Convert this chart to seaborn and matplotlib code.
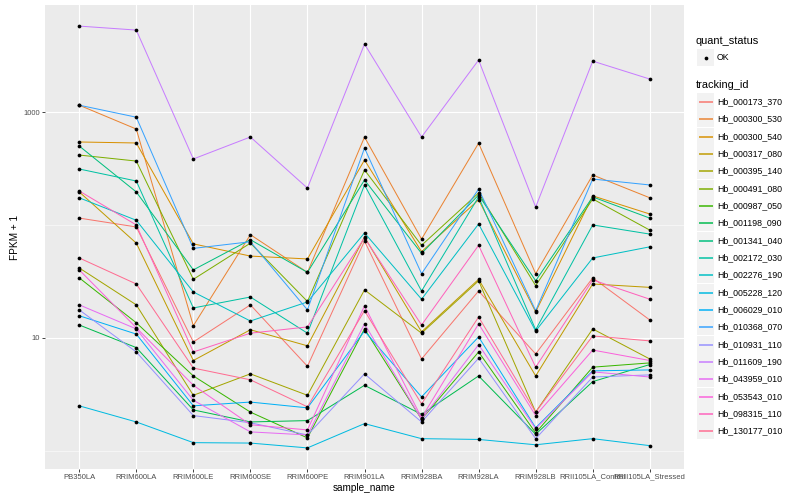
import numpy as np
import pandas as pd
import seaborn as sns
import matplotlib
matplotlib.use('Agg')
import matplotlib.pyplot as plt
from matplotlib.ticker import FixedLocator, NullFormatter
from matplotlib.patches import Rectangle

# sample names on the x axis
SAMPLES = ['PB350LA', 'RRIM600LA', 'RRIM600LE', 'RRIM600SE', 'RRIM600PE', 'RRIM901LA',
           'RRIM928BA', 'RRIM928LA', 'RRIM928LB', 'RRII105LA_Control', 'RRII105LA_Stressed']

TRACKING_IDS = ['Hb_000173_370', 'Hb_000300_530', 'Hb_000300_540', 'Hb_000317_080',
                'Hb_000395_140', 'Hb_000491_080', 'Hb_000987_050', 'Hb_001198_090',
                'Hb_001341_040', 'Hb_002172_030', 'Hb_002276_190', 'Hb_005228_120',
                'Hb_006029_010', 'Hb_010368_070', 'Hb_010931_110', 'Hb_011609_190',
                'Hb_043959_010', 'Hb_053543_010', 'Hb_098315_110', 'Hb_130177_010']

# FPKM + 1, one list per tracking id
hb_000173_370 = [115, 96, 9.2, 19.6, 5.6, 72, 6.5, 26, 7.2, 34, 14.4]
hb_000300_530 = [1150, 707, 12.8, 82, 38, 600, 75, 530, 37, 277, 174]
hb_000300_540 = [543, 532, 68, 53, 50, 376, 58, 167, 17, 181, 125]
hb_000317_080 = [196, 69, 6.3, 11.8, 8.5, 78, 11.3, 33, 4.6, 30, 28]
hb_000395_140 = [41.6, 19.6, 3.1, 4.8, 3.1, 26.6, 11, 32, 2.2, 12, 6.5]
hb_000491_080 = [416, 368, 33, 69, 21, 307, 66, 192, 29, 170, 90]
hb_000987_050 = [34, 13.6, 4.6, 2.2, 1.3, 12, 1.9, 7.5, 1.44, 5.5, 6.0]
hb_001198_090 = [13, 8.2, 2.3, 1.8, 1.85, 3.8, 2.1, 4.6, 1.4, 4.1, 5.8]
hb_001341_040 = [500, 196, 40, 74, 38, 250, 56, 184, 32, 177, 115]
hb_002172_030 = [313, 245, 18.4, 23, 11, 226, 26, 177, 11.8, 100, 83]
hb_002276_190 = [174, 110, 25.5, 14.1, 20.8, 85, 22, 102, 11.5, 51, 64]
hb_005228_120 = [2.5, 1.8, 1.18, 1.17, 1.06, 1.74, 1.28, 1.26, 1.13, 1.28, 1.11]
hb_006029_010 = [15.7, 10.8, 2.5, 2.7, 2.4, 11.5, 3.0, 10.2, 1.6, 5.1, 5.2]
hb_010368_070 = [1150, 900, 62, 71, 17.7, 480, 37, 208, 17.4, 255, 226]
hb_010931_110 = [17.7, 7.5, 2.05, 1.77, 1.38, 4.8, 1.8, 6.6, 1.28, 4.5, 4.7]
hb_011609_190 = [5770, 5320, 384, 601, 212, 4000, 601, 2886, 144, 2825, 1960]
hb_043959_010 = [19.6, 12, 2.8, 1.47, 1.38, 13.3, 1.9, 8.7, 1.57, 5.0, 4.5]
hb_053543_010 = [40, 12.3, 3.8, 1.7, 1.53, 19.2, 1.96, 13.3, 2.05, 7.8, 6.3]
hb_098315_110 = [200, 100, 7.5, 11, 12.5, 77, 13, 66, 5.5, 32.6, 22]
hb_130177_010 = [51, 30, 5.4, 4.25, 2.45, 17.4, 2.6, 15.3, 2.2, 10.4, 9.4]

SERIES = [hb_000173_370, hb_000300_530, hb_000300_540, hb_000317_080, hb_000395_140,
          hb_000491_080, hb_000987_050, hb_001198_090, hb_001341_040, hb_002172_030,
          hb_002276_190, hb_005228_120, hb_006029_010, hb_010368_070, hb_010931_110,
          hb_011609_190, hb_043959_010, hb_053543_010, hb_098315_110, hb_130177_010]

# ggplot default hue palette for 20 levels
COLORS = ['#F8766D', '#EA8331', '#D89000', '#C09B00', '#A3A500', '#7CAE00', '#39B600',
          '#00BB4E', '#00BF7D', '#00C1A3', '#00BFC4', '#00BAE0', '#00B0F6', '#35A2FF',
          '#9590FF', '#C77CFF', '#E76BF3', '#FA62DB', '#FF62BC', '#FF6C91']

rows = []
for tid, vals in zip(TRACKING_IDS, SERIES):
    for s, v in zip(SAMPLES, vals):
        rows.append({'tracking_id': tid, 'sample_name': s, 'fpkm': v, 'quant_status': 'OK'})
data = pd.DataFrame(rows)
data['x'] = data['sample_name'].map({s: i for i, s in enumerate(SAMPLES)})

FONT = ['Liberation Sans', 'DejaVu Sans']
plt.rcParams['font.family'] = FONT

W, H = 800, 500
fig = plt.figure(figsize=(W / 72, H / 72), dpi=72)
ax = fig.add_axes([45 / W, (H - 469) / H, (684 - 45) / W, (469 - 5) / H])
ax.set_facecolor('#EBEBEB')
for sp in ax.spines.values():
    sp.set_visible(False)

sns.lineplot(data=data, x='x', y='fpkm', hue='tracking_id', palette=COLORS,
             hue_order=TRACKING_IDS, estimator=None, sort=False, legend=False,
             linewidth=1.0, ax=ax, zorder=2)
sns.scatterplot(data=data, x='x', y='fpkm', color='black', s=14, linewidth=0,
                legend=False, ax=ax, zorder=3)

ax.set_yscale('log')
lo = np.log10(data['fpkm'].min())
hi = np.log10(data['fpkm'].max())
pad = (hi - lo) * 0.05
ax.set_ylim(10 ** (lo - pad), 10 ** (hi + pad))
ax.set_xlim(-0.6, len(SAMPLES) - 0.4)

ax.yaxis.set_major_locator(FixedLocator([10, 1000]))
ax.set_yticklabels(['10', '1000'])
ax.yaxis.set_minor_locator(FixedLocator([1, 100]))
ax.yaxis.set_minor_formatter(NullFormatter())
ax.set_xticks(range(len(SAMPLES)))
ax.set_xticklabels(SAMPLES)

ax.grid(which='major', color='white', linewidth=1.1, zorder=0)
ax.grid(which='minor', axis='y', color='white', linewidth=0.55, zorder=0)
ax.set_axisbelow(True)
ax.tick_params(which='major', length=2.7, width=0.9, color='#333333',
               labelsize=7.6, labelcolor='#4D4D4D', pad=2)
ax.tick_params(which='minor', length=0)

ax.set_xlabel('sample_name', fontsize=10, labelpad=2)
ax.set_ylabel('FPKM + 1', fontsize=10, labelpad=4)

# legend drawn on an overlay in pixel coordinates
lg = fig.add_axes([0, 0, 1, 1])
lg.set_xlim(0, W)
lg.set_ylim(H, 0)
lg.axis('off')

lg.text(696, 41, 'quant_status', fontsize=11, va='center', ha='left')
lg.add_patch(Rectangle((697, 49), 17, 16.5, color='#F2F2F2', lw=0))
lg.scatter([705.5], [57.5], s=14, color='black', lw=0)
lg.text(717, 57, 'OK', fontsize=8.8, va='center', ha='left')

lg.text(696, 85, 'tracking_id', fontsize=11, va='center', ha='left')
for i, (tid, col) in enumerate(zip(TRACKING_IDS, COLORS)):
    yc = round(101 + i * 17.33) + 0.5
    lg.add_patch(Rectangle((697, yc - 8.2), 17, 16.4, color='#F2F2F2', lw=0))
    lg.plot([698.5, 712.5], [yc, yc], color=col, lw=1.5, solid_capstyle='butt')
    lg.text(717, yc, tid, fontsize=8.8, va='center', ha='left')

fig.savefig('out.png', dpi=72, facecolor='white')
